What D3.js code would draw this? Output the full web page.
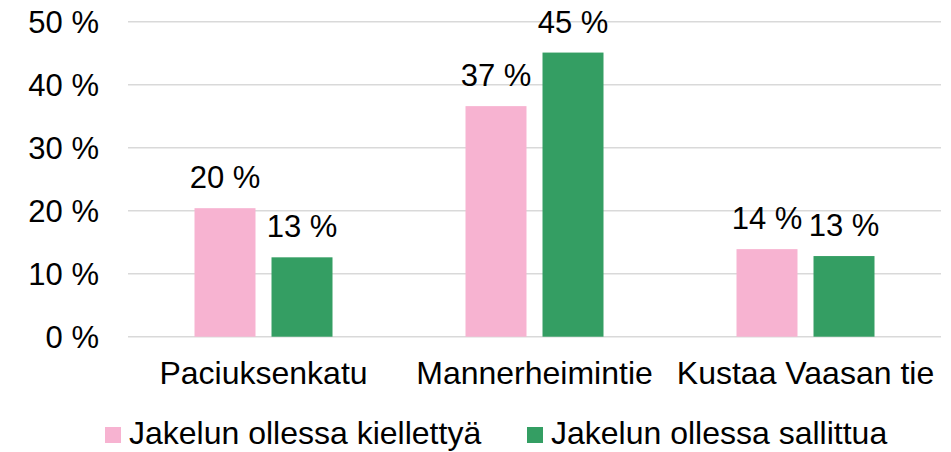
<!DOCTYPE html>
<html>
<head>
<meta charset="utf-8">
<script src="https://cdn.jsdelivr.net/npm/d3@7"></script>
<style>
  body { margin: 0; background: #fff; }
  text { font-family: "Liberation Sans", Arial, sans-serif; fill: #000; }
</style>
</head>
<body>
<div id="chart"></div>
<script>
const w = 951;
const h = 452;

// data
const categories = ['Paciuksenkatu', 'Mannerheimintie', 'Kustaa Vaasan tie'];
const seriesNames = ['Jakelun ollessa kiellettyä', 'Jakelun ollessa sallittua'];
const kielletty = [20.4, 36.6, 13.9];
const sallittu = [12.6, 45.1, 12.8];
const valueLabels = [['20 %', '37 %', '14 %'], ['13 %', '45 %', '13 %']];
const yTicks = [0, 10, 20, 30, 40, 50];
const colors = ['#f7b3d1', '#349e63'];

const values = [kielletty, sallittu];

const svg = d3.select('#chart')
  .append('svg')
  .attr('width', w)
  .attr('height', h);

const yScale = d3.scaleLinear()
  .domain([0, 50])
  .range([336.7, 21.7]);

const x0 = d3.scaleBand()
  .domain(categories)
  .range([128, 941]);

const groupW = 138;
const x1 = d3.scaleBand()
  .domain(seriesNames)
  .range([0, groupW])
  .paddingInner(0.208);

// gridlines
svg.append('g')
  .selectAll('line')
  .data(yTicks)
  .enter()
  .append('line')
  .attr('x1', 128)
  .attr('x2', 941)
  .attr('y1', d => yScale(d))
  .attr('y2', d => yScale(d))
  .attr('stroke', '#d9d9d9')
  .attr('stroke-width', 1.5);

// y axis labels
const yAxis = d3.axisLeft(yScale)
  .tickValues(yTicks)
  .tickSize(0)
  .tickPadding(0)
  .tickFormat(d => d + ' %');

svg.append('g')
  .attr('transform', 'translate(99,0)')
  .call(yAxis)
  .call(g => g.select('.domain').remove())
  .selectAll('text')
  .attr('font-size', 31)
  .attr('font-family', '"Liberation Sans", Arial, sans-serif')
  .attr('fill', '#000')
  .attr('dy', '0.35em');

// bars
const groups = svg.append('g')
  .selectAll('g')
  .data(seriesNames)
  .enter()
  .append('g');

groups.each(function(name, si) {
  const g = d3.select(this);
  const offset = (x0.bandwidth() - groupW) / 2;
  g.selectAll('rect')
    .data(categories)
    .enter()
    .append('rect')
    .attr('x', c => x0(c) + offset + x1(name))
    .attr('y', (c, i) => yScale(values[si][i]))
    .attr('width', x1.bandwidth())
    .attr('height', (c, i) => yScale(0) - yScale(values[si][i]))
    .attr('fill', colors[si]);

  g.selectAll('text')
    .data(categories)
    .enter()
    .append('text')
    .attr('x', c => x0(c) + offset + x1(name) + x1.bandwidth() / 2)
    .attr('y', (c, i) => yScale(values[si][i]) - 20)
    .attr('text-anchor', 'middle')
    .attr('font-size', 31)
    .text((c, i) => valueLabels[si][i]);
});

// x axis labels
const xAxis = d3.axisBottom(x0).tickSize(0).tickPadding(0);
svg.append('g')
  .attr('transform', 'translate(0,384)')
  .call(xAxis)
  .call(g => g.select('.domain').remove())
  .selectAll('text')
  .attr('font-size', 32)
  .attr('font-family', '"Liberation Sans", Arial, sans-serif')
  .attr('fill', '#000')
  .attr('dy', 0);

// legend
const legendX = [105, 527];
const legend = svg.append('g')
  .selectAll('g')
  .data(seriesNames)
  .enter()
  .append('g')
  .attr('transform', (d, i) => 'translate(' + legendX[i] + ',427)');

legend.append('rect')
  .attr('width', 16)
  .attr('height', 16)
  .attr('fill', (d, i) => colors[i]);

legend.append('text')
  .attr('x', 24)
  .attr('y', 17)
  .attr('font-size', 32)
  .text(d => d);
</script>
</body>
</html>
